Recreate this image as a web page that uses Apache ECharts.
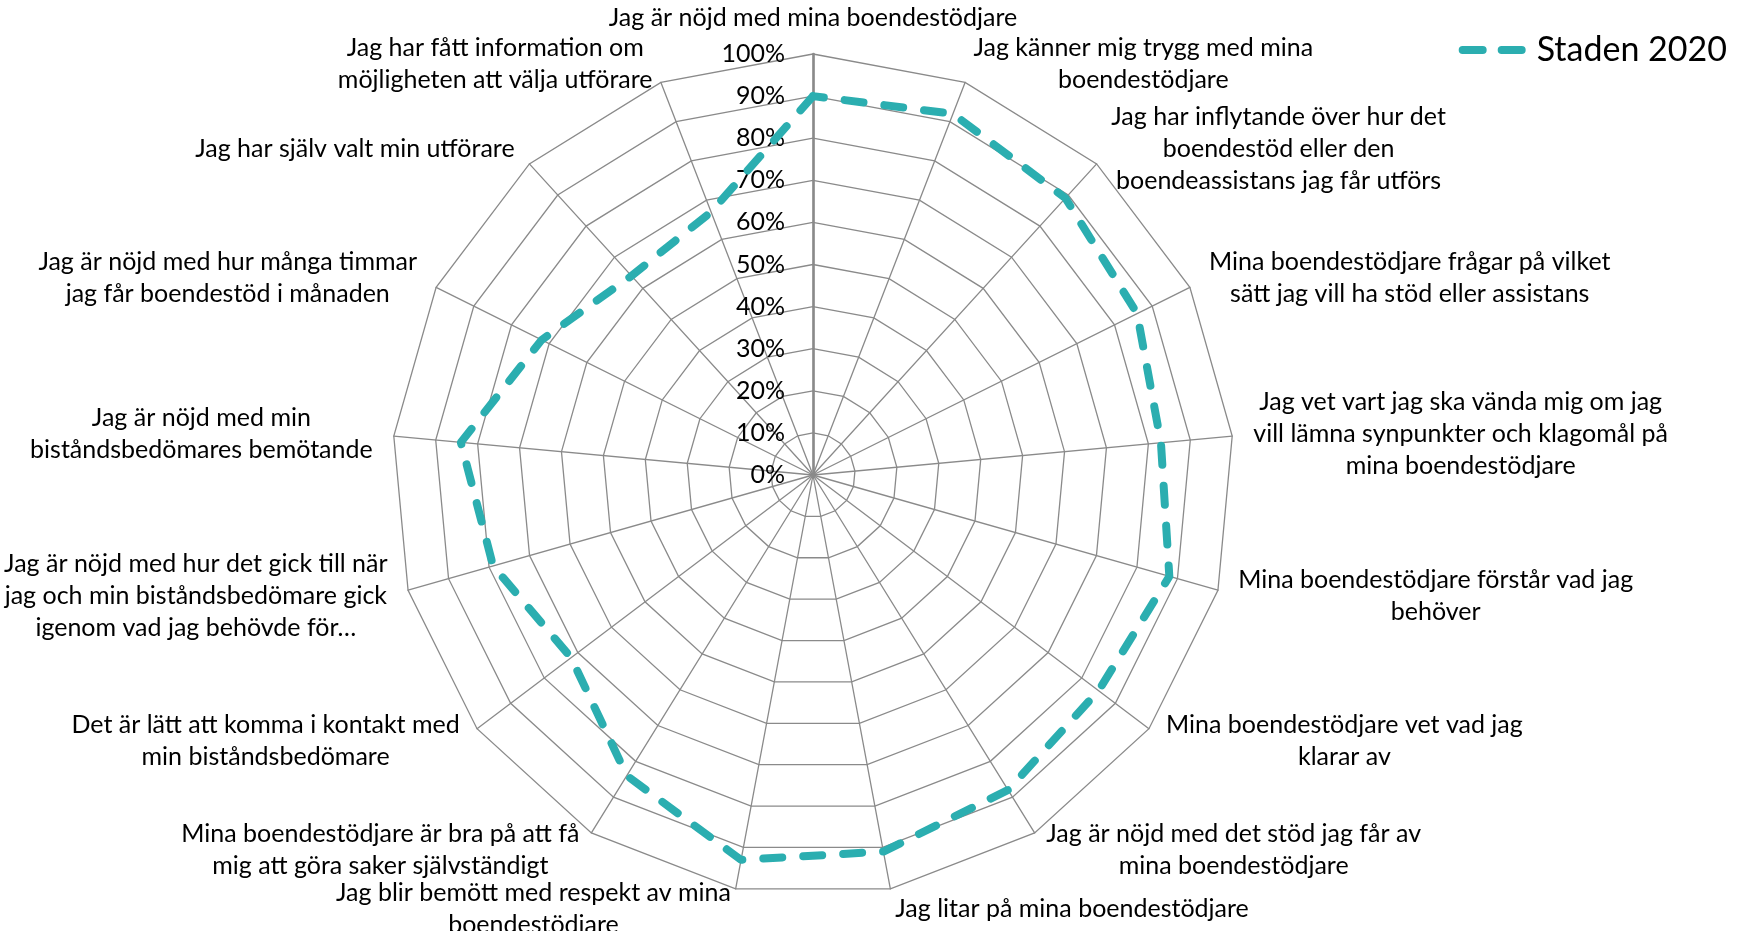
<!DOCTYPE html>
<html>
<head>
<meta charset="utf-8">
<script src="https://cdn.jsdelivr.net/npm/echarts@6/dist/echarts.min.js"></script>
<style>
html,body{margin:0;padding:0;background:#ffffff;}
#chart{width:1744px;height:931px;}
</style>
</head>
<body>
<div id="chart"></div>
<script>
// ---- data ----
const categories = [
  'Jag är nöjd med mina boendestödjare',
  'Jag känner mig trygg med mina\nboendestödjare',
  'Jag har inflytande över hur det\nboendestöd eller den\nboendeassistans jag får utförs',
  'Mina boendestödjare frågar på vilket\nsätt jag vill ha stöd eller assistans',
  'Jag vet vart jag ska vända mig om jag\nvill lämna synpunkter och klagomål på\nmina boendestödjare',
  'Mina boendestödjare förstår vad jag\nbehöver',
  'Mina boendestödjare vet vad jag\nklarar av',
  'Jag är nöjd med det stöd jag får av\nmina boendestödjare',
  'Jag litar på mina boendestödjare',
  'Jag blir bemött med respekt av mina\nboendestödjare',
  'Mina boendestödjare är bra på att få\nmig att göra saker självständigt',
  'Det är lätt att komma i kontakt med\nmin biståndsbedömare',
  'Jag är nöjd med hur det gick till när\njag och min biståndsbedömare gick\nigenom vad jag behövde för…',
  'Jag är nöjd med min\nbiståndsbedömares bemötande',
  'Jag är nöjd med hur många timmar\njag får boendestöd i månaden',
  'Jag har själv valt min utförare',
  'Jag har fått information om\nmöjligheten att välja utförare'
];
const seriesName = 'Staden 2020';
const values = [90, 92, 89, 86, 83, 88, 85, 88, 91, 93, 84, 72, 79, 84, 72, 64, 67];
const tickLabels = ['0%', '10%', '20%', '30%', '40%', '50%', '60%', '70%', '80%', '90%', '100%'];

// ---- layout / style ----
const FONT = 'Lato';
const FS = 25;
const LH = 32;
const TEAL = '#2BAEB0';
const GRID = '#8a8a8a';

// ECharts radar runs counter-clockwise; reorder so categories run clockwise
const order = [0];
for (let i = categories.length - 1; i >= 1; i--) order.push(i);

// measure lines to center multi-line names
const ctx = document.createElement('canvas').getContext('2d');
ctx.font = FS + 'px ' + FONT;
const rich = {};
categories.forEach(function (c, i) {
  const w = Math.max.apply(null, c.split('\n').map(function (l) { return ctx.measureText(l).width; }));
  rich['w' + i] = { width: Math.ceil(w) + 2, align: 'center', fontSize: FS, fontFamily: FONT, color: '#000', lineHeight: LH };
});

const chart = echarts.init(document.getElementById('chart'));
chart.setOption({
  backgroundColor: '#ffffff',
  animation: false,
  legend: {
    data: [{ name: seriesName, icon: 'path://M4,0H24A4,4,0,0,1,24,8H4A4,4,0,0,1,4,0ZM43,0H63A4,4,0,0,1,63,8H43A4,4,0,0,1,43,0Z' }],
    right: 12,
    top: 28,
    itemWidth: 67,
    itemHeight: 8,
    itemStyle: { color: TEAL },
    textStyle: { fontSize: 34, fontFamily: FONT, color: '#000', padding: [0, 0, 0, 6] }
  },
  radar: {
    center: [813, 475],
    radius: 421,
    startAngle: 90,
    shape: 'polygon',
    splitNumber: 10,
    nameGap: 20,
    indicator: order.map(function (i) { return { name: categories[i], min: 0, max: 100 }; }),
    axisName: {
      color: '#000',
      fontSize: FS,
      fontFamily: FONT,
      formatter: function (name) {
        const i = categories.indexOf(name);
        return name.split('\n').map(function (l) { return '{w' + i + '|' + l + '}'; }).join('\n');
      },
      rich: rich
    },
    axisLine: { lineStyle: { color: GRID, width: 1.3 } },
    splitLine: { lineStyle: { color: GRID, width: 1.3 } },
    splitArea: { show: false },
    axisTick: { show: false },
    axisLabel: { show: false }
  },
  polar: { center: [813, 475], radius: 421 },
  angleAxis: { type: 'value', startAngle: 90, min: 0, max: 360, show: false },
  radiusAxis: {
    type: 'value',
    min: 0,
    max: 100,
    interval: 10,
    z: 3,
    axisLine: { show: true, lineStyle: { color: GRID, width: 2.6 } },
    axisTick: { show: false },
    splitLine: { show: false },
    axisLabel: {
      margin: 28,
      fontSize: FS,
      fontFamily: FONT,
      color: '#000',
      formatter: function (v) { return tickLabels[Math.round(v / 10)]; }
    }
  },
  series: [{
    type: 'radar',
    name: seriesName,
    z: 5,
    symbol: 'none',
    lineStyle: { color: TEAL, width: 8, type: [19, 21], cap: 'round', join: 'round' },
    itemStyle: { color: TEAL },
    data: [{ name: seriesName, value: order.map(function (i) { return values[i]; }) }]
  }]
});
</script>
</body>
</html>
